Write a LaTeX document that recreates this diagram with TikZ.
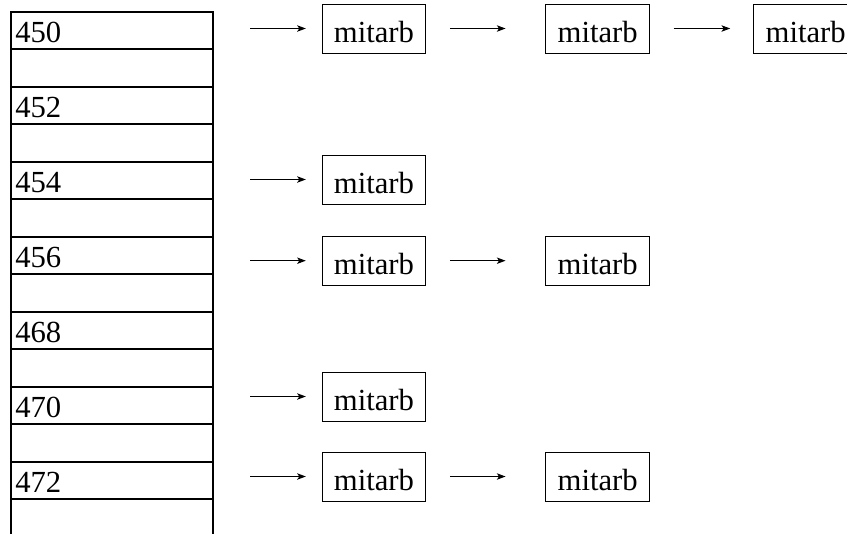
\documentclass[tikz,border=0pt]{standalone}
\usepackage{fontspec}
\setmainfont{Liberation Serif}
\usepackage{tikz}
\usetikzlibrary{arrows.meta}
\usetikzlibrary{positioning}

\begin{document}
\begin{tikzpicture}[->,>={Stealth[length=6.5pt,width=4.8pt,inset=1.6pt]},node distance=0pt,
  cell node/.style={rectangle,draw,line width=1.4pt,outer sep=0pt,inner xsep=3.2pt,inner ysep=0pt,
    text width=144.9pt,minimum height=27.75pt,text height=17.25pt,text depth=0pt,align=left,
    font=\fontsize{23}{27}\selectfont},
  gap node/.style={cell node,minimum height=28.5pt},
  list node/.style={rectangle,draw,line width=0.6pt,outer sep=0pt,inner sep=0pt,
    minimum width=77.8pt,minimum height=36.75pt,text height=20.6pt,text depth=0pt,
    font=\fontsize{23}{27}\selectfont}]

  \useasboundingbox (0,0) rectangle (635.25pt,-399.75pt);

  % the table
  \node[cell node,anchor=north west] (1) at (8.25pt,-9pt) {450};
  \node[gap node]  (2)  [below=of 1]  {};
  \node[cell node] (3)  [below=of 2]  {452};
  \node[gap node]  (4)  [below=of 3]  {};
  \node[cell node] (5)  [below=of 4]  {454};
  \node[gap node]  (6)  [below=of 5]  {};
  \node[cell node] (7)  [below=of 6]  {456};
  \node[gap node]  (8)  [below=of 7]  {};
  \node[cell node] (9)  [below=of 8]  {468};
  \node[gap node]  (10) [below=of 9]  {};
  \node[cell node] (11) [below=of 10] {470};
  \node[gap node]  (12) [below=of 11] {};
  \node[cell node] (13) [below=of 12] {472};
  \node[gap node]  (14) [below=of 13] {};

  % the lists
  \node[list node] (1a)  [right=82pt of 1,yshift=1.5pt] {mitarb};
  \node[list node] (1b)  [right=90pt of 1a] {mitarb};
  \node[list node] (1c)  [right=78.2pt of 1b] {mitarb};
  \node[list node] (5a)  [right=82pt of 5,yshift=0.75pt] {mitarb};
  \node[list node] (7a)  [right=82pt of 7,yshift=-3.9pt] {mitarb};
  \node[list node] (7b)  [right=90pt of 7a] {mitarb};
  \node[list node] (11a) [right=82pt of 11,yshift=6.75pt] {mitarb};
  \node[list node] (13a) [right=82pt of 13,yshift=3pt] {mitarb};
  \node[list node] (13b) [right=90pt of 13a] {mitarb};

  \path[line width=0.75pt,shorten <=28.1pt,shorten >=12.2pt]
    (1.east |- 1a.west) edge (1a)
    (5.east |- 5a.west) edge (5a)
    (7.east |- 7a.west) edge (7a)
    (11.east |- 11a.west) edge (11a)
    (13.east |- 13a.west) edge (13a);

  \path[line width=0.75pt,shorten <=18pt]
    (1a) edge [shorten >=30.2pt] (1b)
    (1b) edge [shorten >=17.7pt] (1c)
    (7a) edge [shorten >=30.2pt] (7b)
    (13a) edge [shorten >=30.2pt] (13b);
\end{tikzpicture}
\end{document}
